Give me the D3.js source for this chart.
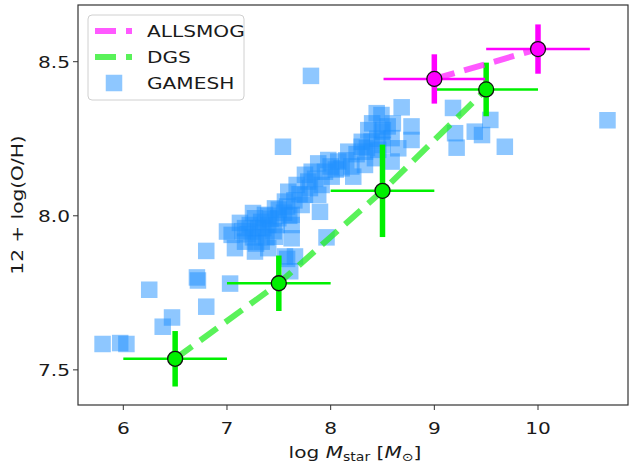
<!DOCTYPE html>
<html>
<head>
<meta charset="utf-8">
<script src="https://cdn.jsdelivr.net/npm/d3@7"></script>
<style>
  body { margin: 0; background: #fff; }
  text { font-family: "DejaVu Sans", sans-serif; fill: #1a1a1a; }
</style>
</head>
<body>
<script>

/* data */

// GAMESH galaxies: log Mstar and 12+log(O/H)
var gameshMass = [5.80, 5.97, 6.03, 6.25, 6.38, 6.47, 6.71, 6.72, 6.80, 6.80, 7.03, 7.58, 7.61, 7.96, 7.54, 7.81, 10.67,
  8.685, 8.49, 8.78, 8.78, 9.18, 9.20, 9.215, 9.39, 9.46, 9.54, 9.68,
  8.363, 8.492, 8.588, 8.395, 8.299, 8.652, 8.17, 8.427, 8.588, 8.073, 7.977, 7.88, 8.106, 8.218, 7.945, 7.817,
  7.784, 7.913, 7.672, 7.591, 7.752, 7.88, 7.72, 7.897, 7.559, 7.463, 7.624, 7.495, 7.366, 7.27, 7.398, 7.624,
  7.174, 7.302, 7.045, 7.174, 7.335, 7.463, 7.624, 7.27, 7.398, 7.559, 7.656, 7.077, 7.752, 8.01, 8.331, 8.459,
  8.331, 8.444, 8.504, 7.125, 7.251, 7.0,
  7.35, 7.42, 7.50, 7.55, 7.65, 7.70, 7.80, 7.85, 7.25, 7.20, 7.45, 8.05, 8.30, 8.35, 8.45, 8.50, 8.25, 8.55, 8.40, 8.60,
  7.15, 7.22, 7.30, 7.38, 7.28, 7.40, 7.48, 7.58, 7.60, 7.33, 8.15, 8.20, 8.00];
var gameshOH = [7.584, 7.587, 7.584, 7.76, 7.64, 7.67, 7.80, 7.79, 7.705, 7.886, 7.78, 7.86, 7.82, 7.93, 8.224, 8.454, 8.31,
  8.352, 8.327, 8.29, 8.246, 8.35, 8.268, 8.221, 8.273, 8.262, 8.311, 8.224,
  8.278, 8.273, 8.252, 8.241, 8.224, 8.219, 8.208, 8.187, 8.176, 8.176, 8.181, 8.17, 8.154, 8.127, 8.143, 8.143,
  8.111, 8.1, 8.1, 8.078, 8.068, 8.068, 8.035, 8.013, 8.046, 8.024, 8.003, 7.992, 8.003, 7.992, 7.97, 7.97,
  7.96, 7.949, 7.938, 7.916, 7.916, 7.932, 7.927, 7.884, 7.895, 7.868, 7.868, 7.895, 8.133, 8.127, 8.165, 8.214,
  8.208, 8.333, 8.278, 7.977, 8.009, 7.949,
  7.96, 7.99, 8.02, 8.01, 8.05, 8.07, 8.09, 8.12, 7.93, 7.94, 7.95, 8.15, 8.24, 8.22, 8.25, 8.23, 8.20, 8.29, 8.30, 8.30,
  7.95, 7.97, 7.96, 7.93, 7.91, 8.00, 7.97, 8.03, 8.00, 7.98, 8.18, 8.16, 8.16];

// DGS binned values
var dgsMass = [6.5, 7.5, 8.5, 9.5];
var dgsOH = [7.536, 7.781, 8.081, 8.41];
var dgsMassErr = [0.5, 0.5, 0.5, 0.5];
var dgsOHErr = [0.09, 0.09, 0.15, 0.087];

// ALLSMOG binned values
var allsmogMass = [9.0, 10.0];
var allsmogOH = [8.444, 8.541];
var allsmogMassErr = [0.49, 0.5];
var allsmogOHErr = [0.08, 0.08];

var xTicks = [6, 7, 8, 9, 10];
var yTicks = [7.5, 8.0, 8.5];


/* canvas */

var width = 630;
var height = 466;
var margin = { top: 5, right: 2, bottom: 61, left: 78 };
var stretch = 1.22; // text in the reference is horizontally wide

var svg = d3.select('body').
append('svg').
attr('width', width).
attr('height', height);

var x = d3.scaleLinear().domain([5.563, 10.868]).range([margin.left, width - margin.right]);
var y = d3.scaleLinear().domain([7.386, 8.684]).range([height - margin.bottom, margin.top]);

var plot = svg.append('g');

function label(parent, px, py, anchor, size) {
  return parent.append('text').
  attr('transform', 'translate(' + px + ',' + py + ') scale(' + stretch + ',1)').
  attr('text-anchor', anchor).
  attr('font-size', size);
}


/* GAMESH squares */

var sq = 16.5;
plot.selectAll('rect.gamesh').
data(d3.range(gameshMass.length)).
enter().
append('rect').
attr('class', 'gamesh').
attr('x', function (i) {return x(gameshMass[i]) - sq / 2;}).
attr('y', function (i) {return y(gameshOH[i]) - sq / 2;}).
attr('width', sq).
attr('height', sq).
attr('fill', '#1e90ff').
attr('fill-opacity', 0.5);


/* binned series: dashed line, error bars, circles */

function drawSeries(mass, oh, massErr, ohErr, lineColour, barColour) {
  var idx = d3.range(mass.length);
  var line = d3.line().
  x(function (i) {return x(mass[i]);}).
  y(function (i) {return y(oh[i]);});

  plot.append('path').
  datum(idx).
  attr('d', line).
  attr('fill', 'none').
  attr('stroke', lineColour).
  attr('stroke-opacity', 0.75).
  attr('stroke-width', 6).
  attr('stroke-dasharray', '21,10');

  plot.selectAll(null).
  data(idx).
  enter().
  append('line').
  attr('x1', function (i) {return x(mass[i] - massErr[i]);}).
  attr('x2', function (i) {return x(mass[i] + massErr[i]);}).
  attr('y1', function (i) {return y(oh[i]);}).
  attr('y2', function (i) {return y(oh[i]);}).
  attr('stroke', barColour).
  attr('stroke-width', 2.5);

  plot.selectAll(null).
  data(idx).
  enter().
  append('line').
  attr('x1', function (i) {return x(mass[i]);}).
  attr('x2', function (i) {return x(mass[i]);}).
  attr('y1', function (i) {return y(oh[i] - ohErr[i]);}).
  attr('y2', function (i) {return y(oh[i] + ohErr[i]);}).
  attr('stroke', barColour).
  attr('stroke-width', 5.5);

  plot.selectAll(null).
  data(idx).
  enter().
  append('circle').
  attr('cx', function (i) {return x(mass[i]);}).
  attr('cy', function (i) {return y(oh[i]);}).
  attr('r', 7.5).
  attr('fill', barColour).
  attr('stroke', '#111').
  attr('stroke-width', 1.3);
}

drawSeries(dgsMass, dgsOH, dgsMassErr, dgsOHErr, '#22ee22', '#00f000');
drawSeries(allsmogMass, allsmogOH, allsmogMassErr, allsmogOHErr, '#ff22ff', '#ff00ff');


/* frame and axes */

svg.append('rect').
attr('x', margin.left).
attr('y', margin.top).
attr('width', width - margin.left - margin.right).
attr('height', height - margin.top - margin.bottom).
attr('fill', 'none').
attr('stroke', '#333').
attr('stroke-width', 1.2);

var axisBottom = height - margin.bottom;
xTicks.forEach(function (t) {
  svg.append('line').
  attr('x1', x(t)).attr('x2', x(t)).
  attr('y1', axisBottom).attr('y2', axisBottom + 5).
  attr('stroke', '#333');
  label(svg, x(t), axisBottom + 29, 'middle', 16.5).text(t);
});

yTicks.forEach(function (t) {
  svg.append('line').
  attr('x1', margin.left - 5).attr('x2', margin.left).
  attr('y1', y(t)).attr('y2', y(t)).
  attr('stroke', '#333');
  label(svg, margin.left - 8, y(t) + 6, 'end', 16.5).text(d3.format('.1f')(t));
});

// x axis title
var xt = label(svg, (margin.left + width - margin.right) / 2 + 2, 458, 'middle', 16.5);
xt.append('tspan').text('log ');
xt.append('tspan').attr('font-style', 'italic').text('M');
xt.append('tspan').attr('font-size', 11.5).attr('dy', 3).text('star');
xt.append('tspan').attr('dy', -3).text(' [');
xt.append('tspan').attr('font-style', 'italic').text('M');
xt.append('tspan').attr('font-size', 11.5).attr('dy', 3).text('\u2299');
xt.append('tspan').attr('dy', -3).text(']');

// y axis title
svg.append('text').
attr('transform', 'translate(23,' + (margin.top + axisBottom) / 2 + ') rotate(-90) scale(' + stretch + ',1)').
attr('text-anchor', 'middle').
attr('font-size', 16.5).
text('12 + log(O/H)');


/* legend */

var legend = svg.append('g');

legend.append('rect').
attr('x', 88).attr('y', 15).
attr('width', 156).attr('height', 85).
attr('rx', 4).
attr('fill', '#fff').
attr('fill-opacity', 0.8).
attr('stroke', '#d0d0d0');

var legendItems = [
  { name: 'ALLSMOG', colour: '#ff22ff', kind: 'line' },
  { name: 'DGS', colour: '#22ee22', kind: 'line' },
  { name: 'GAMESH', colour: '#1e90ff', kind: 'square' }];

legendItems.forEach(function (d, i) {
  var ly = 31 + i * 26;
  if (d.kind === 'line') {
    legend.append('line').
    attr('x1', 95).attr('x2', 132).
    attr('y1', ly).attr('y2', ly).
    attr('stroke', d.colour).
    attr('stroke-opacity', 0.75).
    attr('stroke-width', 6).
    attr('stroke-dasharray', '21,10');
  } else {
    legend.append('rect').
    attr('x', 114 - sq / 2).attr('y', ly - sq / 2).
    attr('width', sq).attr('height', sq).
    attr('fill', d.colour).
    attr('fill-opacity', 0.5);
  }
  label(legend, 147, ly + 6, 'start', 16.5).text(d.name);
});

</script>
</body>
</html>
